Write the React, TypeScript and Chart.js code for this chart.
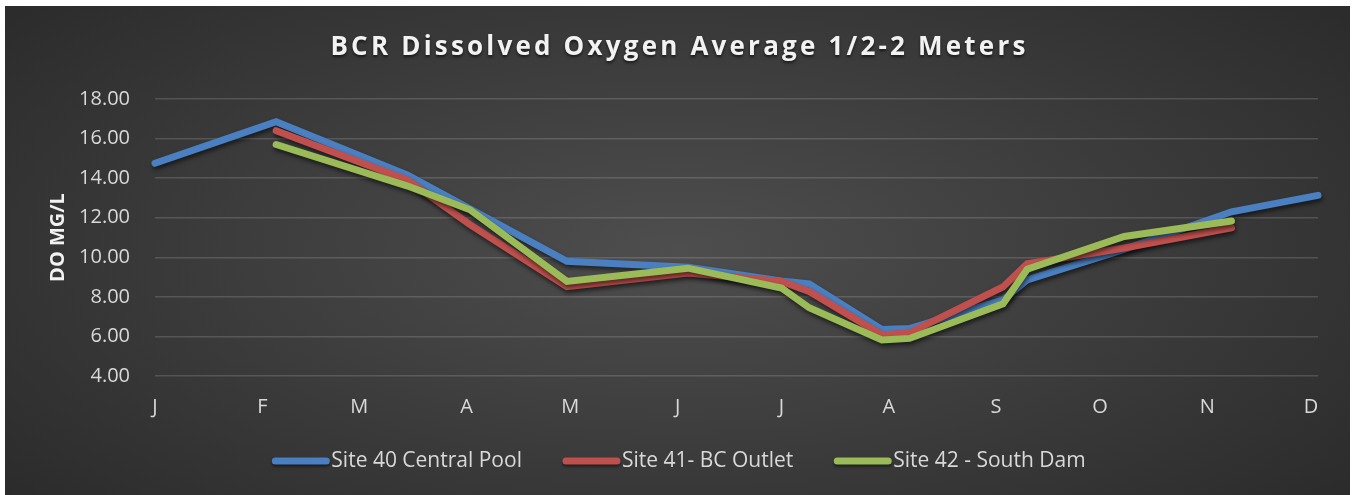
import React, { useEffect, useRef } from "react";
import { Chart, registerables } from "chart.js";

Chart.register(...registerables);

const TITLE = "BCR Dissolved Oxygen Average 1/2-2 Meters";
const Y_TITLE = "DO MG/L";

// x axis: days since Jan 1; month ticks
const MONTH_DAYS = [0, 31, 59, 90, 120, 151, 181, 212, 243, 273, 304, 334];
const MONTH_LABELS = ["J", "F", "M", "A", "M", "J", "J", "A", "S", "O", "N", "D"];

const SITE40_LABEL = "Site 40 Central Pool";
const SITE40_DAYS = [0, 35, 73, 91, 119, 154, 181, 189, 210, 218, 245, 252, 280, 311, 336];
const SITE40_DO = [14.75, 16.85, 14.15, 12.45, 9.8, 9.5, 8.8, 8.65, 6.35, 6.4, 7.85, 8.86, 10.4, 12.3, 13.13];

const SITE41_LABEL = "Site 41- BC Outlet";
const SITE41_DAYS = [35, 73, 91, 119, 154, 181, 189, 210, 218, 245, 252, 280, 311];
const SITE41_DO = [16.4, 13.9, 11.65, 8.52, 9.2, 8.78, 8.27, 6.08, 6.18, 8.5, 9.67, 10.47, 11.49];

const SITE42_LABEL = "Site 42 - South Dam";
const SITE42_DAYS = [35, 73, 91, 119, 154, 181, 189, 210, 218, 245, 252, 280, 311];
const SITE42_DO = [15.7, 13.6, 12.4, 8.78, 9.45, 8.45, 7.45, 5.82, 5.9, 7.65, 9.4, 11.05, 11.83];

const Y_MIN = 4;
const Y_MAX = 18;
const Y_STEP = 2;

const COLORS = ["#4a7fc1", "#c0504d", "#9bbb59"];

const toPoints = (xs: number[], ys: number[]) => xs.map((x, i) => ({ x, y: ys[i] }));

const titlePlugin = {
  id: "customTitle",
  afterDraw(chart: any) {
    const ctx = chart.ctx;
    ctx.save();
    ctx.font = 'bold 26px "Open Sans"';
    (ctx as any).letterSpacing = "3.2px";
    ctx.textAlign = "center";
    ctx.textBaseline = "middle";
    ctx.shadowColor = "rgba(0,0,0,0.6)";
    ctx.shadowBlur = 3;
    ctx.shadowOffsetY = 2;
    ctx.fillStyle = "#f2f2f2";
    ctx.fillText(TITLE, chart.width / 2 + 2, 42);
    ctx.restore();
  },
};

const legendPlugin = {
  id: "customLegend",
  afterDraw(chart: any) {
    const ctx = chart.ctx;
    ctx.save();
    ctx.font = '21px "Open Sans"';
    const sample = 51;
    const gap = 5;
    const itemGap = 44;
    const items = chart.data.datasets.map((ds: any) => ({
      label: ds.label as string,
      color: ds.borderColor as string,
      w: sample + gap + ctx.measureText(ds.label).width,
    }));
    const total = items.reduce((s: number, it: any) => s + it.w, 0) + itemGap * (items.length - 1);
    let x = chart.width / 2 - total / 2 + 3;
    const y = 455;
    for (const it of items) {
      ctx.save();
      ctx.shadowColor = "rgba(0,0,0,0.5)";
      ctx.shadowBlur = 3;
      ctx.shadowOffsetY = 2;
      ctx.strokeStyle = it.color;
      ctx.lineWidth = 7;
      ctx.lineCap = "round";
      ctx.beginPath();
      ctx.moveTo(x, y);
      ctx.lineTo(x + sample, y);
      ctx.stroke();
      ctx.restore();
      ctx.fillStyle = "#d9d9d9";
      ctx.textAlign = "left";
      ctx.textBaseline = "middle";
      ctx.fillText(it.label, x + sample + gap, y);
      x += it.w + itemGap;
    }
    ctx.restore();
  },
};

const shadowPlugin = {
  id: "lineShadow",
  beforeDatasetDraw(chart: any) {
    const c = chart.ctx;
    c.save();
    c.shadowColor = "rgba(0,0,0,0.55)";
    c.shadowBlur = 4;
    c.shadowOffsetX = 1;
    c.shadowOffsetY = 3;
  },
  afterDatasetDraw(chart: any) {
    chart.ctx.restore();
  },
};

export default function App() {
  const ref = useRef<HTMLCanvasElement>(null);

  useEffect(() => {
    if (!ref.current) return;
    const mk = (label: string, xs: number[], ys: number[], color: string, order: number) => ({
      label,
      data: toPoints(xs, ys),
      borderColor: color,
      backgroundColor: color,
      borderWidth: 7,
      borderCapStyle: "round" as const,
      borderJoinStyle: "miter" as const,
      pointRadius: 0,
      pointHoverRadius: 0,
      tension: 0,
      fill: false,
      clip: 12,
      order,
    });
    const chart = new Chart(ref.current, {
      type: "line",
      data: {
        datasets: [
          mk(SITE40_LABEL, SITE40_DAYS, SITE40_DO, COLORS[0], 3),
          mk(SITE41_LABEL, SITE41_DAYS, SITE41_DO, COLORS[1], 2),
          mk(SITE42_LABEL, SITE42_DAYS, SITE42_DO, COLORS[2], 1),
        ],
      },
      options: {
        animation: false,
        responsive: false,
        events: [],
        layout: { padding: { top: 93, right: 32, bottom: 69, left: 0 } },
        plugins: {
          legend: { display: false },
          title: { display: false },
          tooltip: { enabled: false },
        },
        scales: {
          x: {
            type: "linear",
            min: 0,
            max: 336,
            grid: { display: false, drawTicks: false },
            border: { display: false },
            afterBuildTicks: (scale: any) => {
              scale.ticks = MONTH_DAYS.map((v) => ({ value: v }));
            },
            afterFit: (scale: any) => {
              scale.height = 50;
            },
            ticks: {
              autoSkip: false,
              maxRotation: 0,
              padding: 19,
              color: "#d9d9d9",
              font: { family: '"Open Sans"', size: 20 },
              callback: (v: any) => {
                const i = MONTH_DAYS.indexOf(Number(v));
                return i >= 0 ? MONTH_LABELS[i] : "";
              },
            },
          },
          y: {
            min: Y_MIN,
            max: Y_MAX,
            grid: { color: "rgba(255,255,255,0.15)", lineWidth: 1.5, drawTicks: false },
            border: { display: false },
            afterFit: (scale: any) => {
              scale.width = 150;
            },
            ticks: {
              stepSize: Y_STEP,
              padding: 25,
              color: "#d9d9d9",
              font: { family: '"Open Sans"', size: 20 },
              callback: (v: any) => Number(v).toFixed(2),
            },
            title: {
              display: true,
              text: Y_TITLE,
              color: "#f2f2f2",
              font: { family: '"Open Sans"', size: 20, weight: "bold" },
              padding: { top: 41, bottom: 0 },
            },
          },
        },
      },
      plugins: [shadowPlugin, titlePlugin, legendPlugin],
    } as any);
    return () => chart.destroy();
  }, []);

  return (
    <div
      style={{
        position: "absolute",
        left: 5,
        top: 6,
        width: 1345,
        height: 489,
        background: "radial-gradient(ellipse 75% 90% at 50% 50%, #4e4e4e 0%, #3c3c3c 45%, #262626 100%)",
      }}
    >
      <canvas ref={ref} width={1345} height={489} style={{ display: "block" }} />
    </div>
  );
}
